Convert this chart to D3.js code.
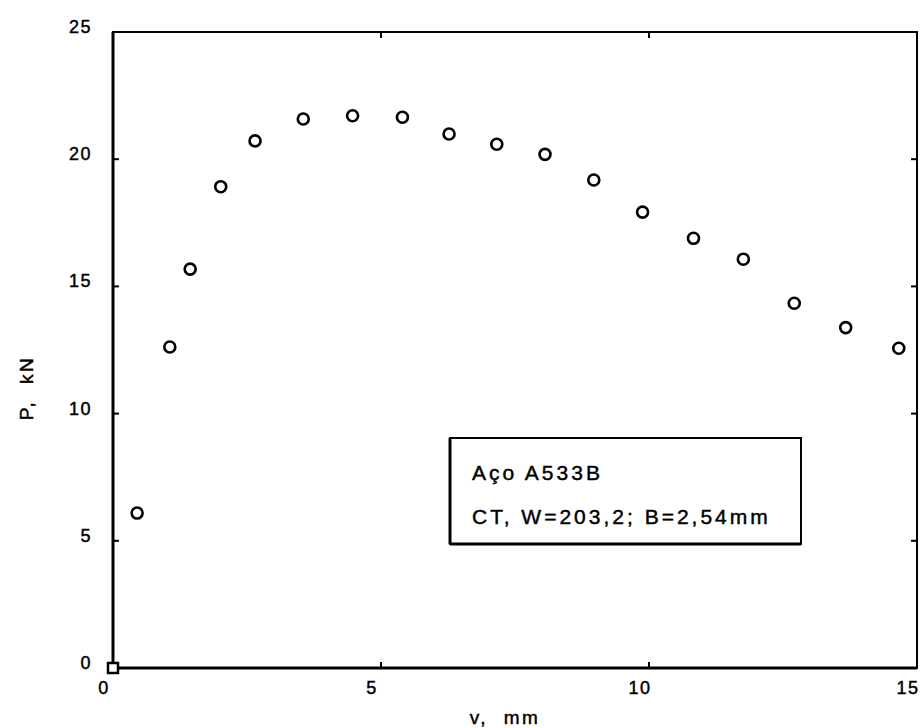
<!DOCTYPE html>
<html>
<head>
<meta charset="utf-8">
<script src="https://cdn.jsdelivr.net/npm/d3@7"></script>
<style>
  html, body { margin: 0; padding: 0; background: #fff; }
  text { font-family: "Liberation Sans", Arial, Helvetica, sans-serif; fill: #000; stroke: #000; stroke-width: 0.45px; }
</style>
</head>
<body>
<div id="chart"></div>
<script>
// displacement v (mm) and load P (kN)
const vValues = [0, 0.45, 1.06, 1.44, 2.01, 2.65, 3.55, 4.47, 5.40, 6.27, 7.16, 8.06, 8.97, 9.88, 10.83, 11.76, 12.71, 13.67, 14.66];
const pValues = [0, 6.09, 12.62, 15.68, 18.92, 20.72, 21.58, 21.71, 21.65, 20.99, 20.59, 20.19, 19.18, 17.92, 16.89, 16.07, 14.34, 13.38, 12.57];
const markerShapes = ["square"].concat(d3.range(vValues.length - 1).map(() => "circle"));

const xTicks = [0, 5, 10, 15];
const yTicks = [0, 5, 10, 15, 20, 25];
const noteLines = ["Aço A533B", "CT, W=203,2; B=2,54mm"];

const W = 921, H = 728;
const margin = { top: 32, right: 4, bottom: 60, left: 113 };
const width = W - margin.left - margin.right;   // 804
const height = H - margin.top - margin.bottom;  // 636

const svg = d3.select("#chart").append("svg")
  .attr("width", W).attr("height", H)
  .attr("viewBox", `0 0 ${W} ${H}`);

const root = svg.append("g").attr("transform", `translate(${margin.left},${margin.top})`);

const x = d3.scaleLinear().domain([0, 15]).range([0, width]);
const y = d3.scaleLinear().domain([0, 25]).range([height, 0]);

// frame
root.append("rect")
  .attr("x", 0).attr("y", 0).attr("width", width).attr("height", height)
  .attr("fill", "none").attr("stroke", "#000").attr("stroke-width", 2);
root.append("line").attr("x1", 0).attr("x2", 0).attr("y1", 0).attr("y2", height)
  .attr("stroke", "#000").attr("stroke-width", 3);
root.append("line").attr("x1", 0).attr("x2", width).attr("y1", height).attr("y2", height)
  .attr("stroke", "#000").attr("stroke-width", 3);

// inward ticks on all four sides
const tickLen = 6;
const tickStyle = (s) => s.attr("stroke", "#000").attr("stroke-width", 2);
root.selectAll(".tl").data(yTicks.slice(1, -1)).join("line")
  .attr("x1", 0).attr("x2", tickLen).attr("y1", y).attr("y2", y).call(tickStyle);
root.selectAll(".tr").data(yTicks.slice(1, -1)).join("line")
  .attr("x1", width - tickLen).attr("x2", width).attr("y1", y).attr("y2", y).call(tickStyle);
root.selectAll(".tb").data(xTicks.slice(1, -1)).join("line")
  .attr("y1", height).attr("y2", height - tickLen).attr("x1", x).attr("x2", x).call(tickStyle);
root.selectAll(".tt").data(xTicks.slice(1, -1)).join("line")
  .attr("y1", 0).attr("y2", tickLen).attr("x1", x).attr("x2", x).call(tickStyle);

// tick labels
root.append("g").selectAll("text").data(yTicks).join("text")
  .attr("x", -21).attr("y", (d) => y(d) + 1)
  .attr("text-anchor", "end")
  .attr("font-size", "18px").attr("letter-spacing", "1.5px")
  .text((d) => d);

root.append("g").selectAll("text").data(xTicks).join("text")
  .attr("x", (d) => x(d) - 9).attr("y", height + 26)
  .attr("text-anchor", "middle")
  .attr("font-size", "18px").attr("letter-spacing", "1.5px")
  .text((d) => d);

// axis titles
svg.append("text")
  .attr("x", 505).attr("y", 724)
  .attr("text-anchor", "middle")
  .attr("font-size", "19px").attr("letter-spacing", "2.5px")
  .style("white-space", "pre")
  .text("v,  mm");

svg.append("text")
  .attr("transform", "translate(33,388) rotate(-90)")
  .attr("text-anchor", "middle")
  .attr("font-size", "19px").attr("letter-spacing", "2.5px")
  .style("white-space", "pre")
  .text("P,  kN");

// data points
const points = vValues.map((v, i) => ({ v, p: pValues[i], shape: markerShapes[i] }));
root.append("g").selectAll("circle").data(points.filter((d) => d.shape === "circle")).join("circle")
  .attr("cx", (d) => x(d.v)).attr("cy", (d) => y(d.p))
  .attr("r", 5.5)
  .attr("fill", "#fff").attr("stroke", "#000").attr("stroke-width", 2.6);
root.append("g").selectAll("rect").data(points.filter((d) => d.shape === "square")).join("rect")
  .attr("x", (d) => x(d.v) - 5).attr("y", (d) => y(d.p) - 5)
  .attr("width", 10).attr("height", 10)
  .attr("fill", "#fff").attr("stroke", "#000").attr("stroke-width", 2.5);

// annotation box
const box = svg.append("g").attr("transform", "translate(450,438)");
box.append("rect")
  .attr("width", 351).attr("height", 106)
  .attr("fill", "#fff").attr("stroke", "#000").attr("stroke-width", 2);
box.append("line").attr("x1", 0).attr("x2", 0).attr("y1", 0).attr("y2", 106)
  .attr("stroke", "#000").attr("stroke-width", 3);
box.append("line").attr("x1", 0).attr("x2", 351).attr("y1", 106).attr("y2", 106)
  .attr("stroke", "#000").attr("stroke-width", 3);
box.selectAll("text.note").data(noteLines).join("text")
  .attr("x", 22).attr("y", (_, i) => 42 + i * 44)
  .attr("font-size", "21px").attr("letter-spacing", "3px")
  .text((d) => d);
</script>
</body>
</html>
